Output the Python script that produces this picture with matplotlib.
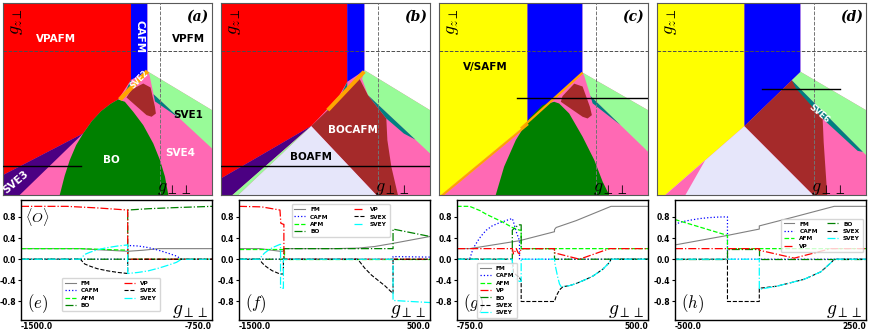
import matplotlib
matplotlib.use("Agg")
import matplotlib.pyplot as plt

plt.rcParams["mathtext.fontset"] = "cm"

# Fasediagrammer (a)-(d): hjørner i (g_perp_perp, g_z_perp)
G_RANGE = (-1500, 500)

a_red = [(-1500, 500), (-275, 500), (-275, -300), (-398, -505), (-470, -550), (-560, -625),
         (-650, -730), (-733, -859), (-1500, -1292)]
a_blue = [(-275, 500), (-117, 500), (-117, -212), (-275, -300)]
a_white = [(-117, 500), (500, 500), (500, -616), (-117, -212)]
a_lgreen = [(-117, -212), (500, -616), (500, -1015), (-60, -450), (-100, -240)]
a_teal = [(-60, -450), (190, -702), (-45, -525)]
a_teal2 = [(-275, -300), (-275, -370), (-335, -440)]
a_green = [(-398, -505), (-470, -550), (-560, -625), (-650, -730), (-733, -859), (-800, -980),
           (-861, -1136), (-910, -1300), (-957, -1500), (82, -1500), (50, -1309), (2, -1136),
           (-62, -963), (-158, -772), (-254, -633), (-334, -529)]
a_purple = [(-733, -859), (-1500, -1292), (-1500, -1500), (-1340, -1500)]
a_brown = [(-270, -401), (-158, -339), (-88, -380), (-46, -581), (-37, -651), (-78, -685),
           (-126, -668), (-318, -484)]
a_orange = [(-398, -490), (-133, -195), (-101, -225), (-366, -520)]

b_red = [(-1500, 500), (-292, 500), (-292, -321), (-366, -460), (-478, -600), (-637, -782),
         (-1500, -1327)]
b_blue = [(-292, 500), (-126, 500), (-126, -200), (-292, -321)]
b_white = [(-126, 500), (500, 500), (500, -616), (-126, -200)]
b_lgreen = [(-126, -200), (500, -616), (500, -1067), (-94, -460), (-150, -290)]
b_brown = [(-174, -290), (-94, -460), (82, -703), (92, -928), (130, -1205), (193, -1500),
           (-14, -1500), (-637, -782), (-478, -616)]
b_teal = [(-94, -460), (360, -923), (250, -860), (82, -703)]
b_teal2 = [(-292, -321), (-292, -380), (-340, -430)]
b_lavender = [(-637, -782), (-1335, -1500), (-14, -1500)]
b_purple = [(-637, -782), (-1500, -1327), (-1500, -1500), (-1390, -1500)]
b_lgreen2 = [(-637, -782), (-1390, -1500), (-1335, -1500)]
b_orange = [(-493, -603), (-145, -202), (-115, -228), (-463, -629)]

c_yellow = [(-1500, 500), (-653, 500), (-653, -755), (-1480, -1500), (-1500, -1500)]
c_blue = [(-653, 500), (-126, 500), (-126, -225), (-653, -755)]
c_white = [(-126, 500), (500, 500), (500, -616), (-126, -225)]
c_lgreen = [(-126, -225), (500, -616), (500, -1049), (-50, -470), (-110, -260)]
c_teal = [(-50, -470), (235, -770), (-30, -545)]
c_green = [(-398, -529), (-510, -564), (-637, -703), (-765, -928), (-877, -1205), (-957, -1500),
           (129, -1500), (66, -1361), (-14, -1136), (-126, -893), (-254, -651), (-350, -547)]
c_brown = [(-318, -470), (-206, -340), (-126, -370), (-56, -581), (-37, -668), (-78, -703),
           (-126, -685), (-334, -529)]
c_orange = [(-725, -799), (-134, -217), (-118, -233), (-709, -815)]
c_orange2 = [(-653, -755), (-1480, -1500), (-1450, -1500), (-640, -770)]

d_yellow = [(-1500, 500), (-663, 500), (-663, -782), (-1420, -1500), (-1500, -1500)]
d_blue = [(-663, 500), (-126, 500), (-126, -217), (-663, -782)]
d_white = [(-126, 500), (500, 500), (500, -616), (-126, -217)]
d_lgreen = [(-126, -217), (500, -616), (500, -1084), (-210, -305)]
d_lavender = [(-663, -782), (-1420, -1500), (-5, -1500)]
d_brown = [(-663, -782), (-210, -305), (85, -700), (95, -950), (129, -1500), (-5, -1500)]
d_teal = [(-210, -305), (470, -1051), (420, -1040), (100, -720), (-170, -390)]
d_pink = [(-1040, -1140), (-1420, -1500), (-1228, -1500)]

# snitt som brukes i (e)-(h)
a_cut_x, a_cut_y = [-1500, -750], -1200
b_cut_x, b_cut_y = [-1500, 500], -1200
c_cut_x, c_cut_y = [-750, 500], -490
d_cut_x, d_cut_y = [-500, 250], -400

# Ordensparametre (e)-(h)
e_fm_x = [-1500, -1267, -1200, -1140, -1081, -1020, -960, -750]
e_fm_y = [0.2, 0.2, 0.18, 0.165, 0.15, 0.17, 0.2, 0.2]
e_cafm_x = [-1500, -1081, -1081, -1040, -1000, -960, -920, -890, -869, -750]
e_cafm_y = [0, 0, 0.26, 0.25, 0.22, 0.17, 0.11, 0.06, 0, 0]
e_afm_x = [-1500, -1267, -1081, -1081, -750]
e_afm_y = [0.2, 0.2, 0.17, 0.0, 0.0]
e_bo_x = [-1500, -1081, -1081, -1000, -900, -750]
e_bo_y = [0, 0, 0.93, 0.955, 0.975, 1.0]
e_vp_x = [-1500, -1320, -1200, -1081, -1081, -750]
e_vp_y = [1.0, 1.0, 0.97, 0.93, 0.0, 0.0]
e_svex_x = [-1500, -1267, -1250, -1230, -1200, -1160, -1120, -1081, -1081, -750]
e_svex_y = [0, 0, -0.09, -0.13, -0.18, -0.22, -0.25, -0.27, 0, 0]
e_svey_x = [-1500, -1267, -1250, -1230, -1200, -1160, -1120, -1081, -1081, -1040, -1000, -960,
            -920, -890, -869, -750]
e_svey_y = [0, 0, 0.09, 0.13, 0.18, 0.22, 0.25, 0.27, -0.27, -0.25, -0.22, -0.17, -0.11, -0.06,
            0, 0]

f_fm_x = [-1500, -1280, -1071, -1030, -1030, -500, -250, -80, 113, 500]
f_fm_y = [0.2, 0.2, 0.15, 0.15, 0.2, 0.2, 0.21, 0.24, 0.3, 0.43]
f_cafm_x = [-1500, 113, 113, 500]
f_cafm_y = [0, 0, 0.05, 0.04]
f_afm_x = [-1500, -1030, -1030, 500]
f_afm_y = [0.2, 0.2, 0.0, 0.0]
f_bo_x = [-1500, -1030, -1030, 113, 113, 500]
f_bo_y = [0, 0, 0.2, 0.2, 0.57, 0.43]
f_vp_x = [-1500, -1263, -1071, -1062, -1035, -1030, -1030, 500]
f_vp_y = [1.0, 0.99, 0.93, 0.68, 0.66, 0.66, 0.0, 0.0]
f_svex_x = [-1500, -1280, -1263, -1230, -1193, -1150, -1110, -1071, -1035, -1035, -260, -235,
            -183, -113, -44, 26, 113, 113, 500]
f_svex_y = [0, 0, -0.06, -0.12, -0.17, -0.22, -0.25, -0.28, -0.28, 0, 0, -0.05, -0.17, -0.3,
            -0.4, -0.5, -0.65, 0, 0]
f_svey_x = [-1500, -1280, -1263, -1230, -1193, -1150, -1110, -1071, -1065, -1065, -1035, -1035,
            113, 113, 300, 500]
f_svey_y = [0, 0, 0.06, 0.12, 0.17, 0.22, 0.25, 0.28, 0.28, -0.55, -0.55, 0, 0, -0.78, -0.8,
            -0.82]

g_fm_x = [-750, -667, -341, -112, -112, -101, 30, 258, 500]
g_fm_y = [0.2, 0.2, 0.35, 0.52, 0.56, 0.6, 0.73, 1.0, 1.0]
g_cafm_x = [-750, -667, -656, -645, -624, -602, -580, -558, -520, -480, -449, -420, -388, -380,
            -360, -341, -341, 500]
g_cafm_y = [0, 0, 0.1, 0.2, 0.3, 0.4, 0.48, 0.55, 0.63, 0.68, 0.71, 0.74, 0.77, 0.7, 0.5, 0.35,
            0, 0]
g_afm_x = [-750, -667, -600, -558, -500, -449, -388, -341, -330, -330, 500]
g_afm_y = [1.0, 1.0, 0.92, 0.85, 0.77, 0.7, 0.6, 0.55, 0.55, 0.2, 0.2]
g_vp_x = [-750, -388, -380, -370, -362, -350, -341, -330, -112, -112, 52, 248, 500]
g_vp_y = [0.2, 0.2, 0.1, 0.15, 0.2, 0.12, 0.1, 0.2, 0.2, 0.12, 0.0, 0.2, 0.2]
g_bo_x = [-750, -388, -388, -360, -341, -330, -330, -112, -112, 500]
g_bo_y = [0, 0, 0.55, 0.62, 0.65, 0.65, 0.2, 0.2, 0.0, 0.0]
g_svex_x = [-750, -388, -380, -362, -341, -330, -330, -112, -101, -79, -57, -14, 30, 95, 139,
            204, 248, 258, 500]
g_svex_y = [0, 0, -0.25, -0.3, -0.35, -0.4, -0.8, -0.8, -0.7, -0.58, -0.52, -0.5, -0.46, -0.38,
            -0.32, -0.19, -0.06, 0, 0]
g_svey_x = [-750, -388, -388, -362, -341, -330, -330, -112, -107, -101, -90, -79, -68, -57, -14,
            30, 95, 139, 204, 248, 258, 500]
g_svey_y = [0, 0, -0.3, -0.38, -0.42, -0.42, 0, 0, -0.12, -0.2, -0.35, -0.47, -0.52, -0.52, -0.5,
            -0.46, -0.38, -0.32, -0.19, -0.06, 0, 0]

h_fm_x = [-500, -294, -169, -169, -32, 125, 250]
h_fm_y = [0.27, 0.45, 0.57, 0.63, 0.8, 1.0, 1.0]
h_cafm_x = [-500, -480, -450, -420, -400, -370, -340, -310, -294, -294, 250]
h_cafm_y = [0.65, 0.7, 0.73, 0.755, 0.77, 0.785, 0.795, 0.8, 0.8, 0.0, 0.0]
h_afm_x = [-500, -294, -294, 250]
h_afm_y = [0.75, 0.45, 0.2, 0.2]
h_vp_x = [-500, -169, -169, -32, 112, 250]
h_vp_y = [0.2, 0.2, 0.17, 0.02, 0.2, 0.2]
h_bo_x = [-500, -294, -294, -169, -169, 250]
h_bo_y = [0, 0, 0.2, 0.2, 0.0, 0.0]
h_svex_x = [-500, -294, -294, -169, -169, -100, -58, 7, 72, 98, 118, 125, 250]
h_svex_y = [0, 0, -0.8, -0.8, -0.55, -0.51, -0.46, -0.38, -0.24, -0.13, -0.04, 0, 0]
h_svey_x = [-500, -169, -169, -100, -58, 7, 72, 98, 118, 125, 250]
h_svey_y = [0, 0, -0.57, -0.51, -0.46, -0.38, -0.24, -0.13, -0.04, 0, 0]

styles = {
    "FM": dict(color="gray", ls="-", lw=0.8),
    "CAFM": dict(color="blue", ls=":", lw=0.9),
    "AFM": dict(color="lime", ls="--", lw=0.9),
    "BO": dict(color="green", ls="-.", lw=0.9),
    "VP": dict(color="red", ls="-.", lw=0.9),
    "SVEX": dict(color="black", ls="--", lw=0.8),
    "SVEY": dict(color="cyan", ls="-.", lw=0.9),
}

fig = plt.figure(figsize=(8.72, 3.33), dpi=100)

top_lefts = [3, 221, 439, 657]
bot_lefts = [21, 239, 457, 675]


def phase_axes(i):
    ax = fig.add_axes([top_lefts[i] / 872, 1 - 195 / 333, 209 / 872, 192 / 333])
    ax.set_facecolor("hotpink")
    ax.set_xlim(G_RANGE)
    ax.set_ylim(G_RANGE)
    ax.set_xticks([])
    ax.set_yticks([])
    for s in ax.spines.values():
        s.set_color("0.35")
    return ax


def fill_regions(ax, regions):
    for verts, col in regions:
        xs = [v[0] for v in verts]
        ys = [v[1] for v in verts]
        ax.fill(xs, ys, color=col, lw=0, zorder=1)


def finish_phase(ax, tag, cut_x, cut_y):
    ax.axvline(0, color="0.45", ls="--", lw=0.7, zorder=3)
    ax.axhline(0, color="0.3", ls="--", lw=0.7, zorder=3)
    ax.plot(cut_x, [cut_y, cut_y], color="black", lw=1.0, zorder=4)
    ax.text(0.02, 0.975, r"$g_{z\perp}$", transform=ax.transAxes, rotation=90,
            fontsize=13, ha="left", va="top", zorder=5)
    ax.text(0.9, -0.01, r"$g_{\perp\perp}$", transform=ax.transAxes,
            fontsize=13, ha="right", va="bottom", zorder=5)
    ax.text(0.93, 0.93, tag, transform=ax.transAxes, fontsize=10, ha="center", va="center",
            family="DejaVu Serif", style="italic", weight="bold", zorder=5)


def label(ax, x, y, s, col="white", rot=0, size=7.5):
    ax.text(x, y, s, color=col, fontsize=size, weight="bold", rotation=rot,
            ha="center", va="center", zorder=5)


# (a)
ax = phase_axes(0)
fill_regions(ax, [(a_red, "red"), (a_blue, "blue"), (a_white, "white"), (a_lgreen, "palegreen"),
                  (a_teal, "teal"), (a_teal2, "teal"), (a_green, "green"), (a_purple, "indigo"),
                  (a_brown, "brown"), (a_orange, "orange")])
finish_phase(ax, "(a)", a_cut_x, a_cut_y)
label(ax, -989, 129, "VPAFM")
label(ax, -196, 146, "CAFM", rot=-90)
label(ax, 273, 129, "VPFM", col="black")
label(ax, 273, -668, "SVE1", col="black")
label(ax, 193, -1067, "SVE4")
label(ax, -462, -1136, "BO")
label(ax, -1380, -1365, "SVE3", rot=40)
label(ax, -195, -300, "SVE2", rot=45, size=5.5)

# (b)
ax = phase_axes(1)
fill_regions(ax, [(b_red, "red"), (b_blue, "blue"), (b_white, "white"), (b_lgreen, "palegreen"),
                  (b_brown, "brown"), (b_teal, "teal"), (b_teal2, "teal"),
                  (b_lavender, "lavender"), (b_purple, "indigo"), (b_lgreen2, "palegreen"),
                  (b_orange, "orange")])
finish_phase(ax, "(b)", b_cut_x, b_cut_y)
label(ax, -238, -824, "BOCAFM")
label(ax, -637, -1101, "BOAFM", col="black")

# (c)
ax = phase_axes(2)
fill_regions(ax, [(c_yellow, "yellow"), (c_blue, "blue"), (c_white, "white"),
                  (c_lgreen, "palegreen"), (c_teal, "teal"), (c_green, "green"),
                  (c_brown, "brown"), (c_orange, "orange"), (c_orange2, "orange")])
finish_phase(ax, "(c)", c_cut_x, c_cut_y)
label(ax, -1059, -165, "V/SAFM", col="black")

# (d)
ax = phase_axes(3)
fill_regions(ax, [(d_yellow, "yellow"), (d_blue, "blue"), (d_white, "white"),
                  (d_lgreen, "palegreen"), (d_lavender, "lavender"), (d_brown, "brown"),
                  (d_teal, "teal"), (d_pink, "hotpink")])
finish_phase(ax, "(d)", d_cut_x, d_cut_y)
label(ax, 50, -651, "SVE6", rot=-40, size=6)

# (e)-(h)
order_a = ["FM", "CAFM", "AFM", "BO", "VP", "SVEX", "SVEY"]
order_b = ["FM", "CAFM", "AFM", "VP", "BO", "SVEX", "SVEY"]
panels = [
    ("(e)", -1500, -750, {"FM": (e_fm_x, e_fm_y), "CAFM": (e_cafm_x, e_cafm_y),
                          "AFM": (e_afm_x, e_afm_y), "BO": (e_bo_x, e_bo_y),
                          "VP": (e_vp_x, e_vp_y), "SVEX": (e_svex_x, e_svex_y),
                          "SVEY": (e_svey_x, e_svey_y)},
     order_a, 2, "lower left", (0.2, 0.05), 4.3),
    ("(f)", -1500, 500, {"FM": (f_fm_x, f_fm_y), "CAFM": (f_cafm_x, f_cafm_y),
                         "AFM": (f_afm_x, f_afm_y), "BO": (f_bo_x, f_bo_y),
                         "VP": (f_vp_x, f_vp_y), "SVEX": (f_svex_x, f_svex_y),
                         "SVEY": (f_svey_x, f_svey_y)},
     order_a, 2, "upper left", (0.26, 0.99), 4.3),
    ("(g)", -750, 500, {"FM": (g_fm_x, g_fm_y), "CAFM": (g_cafm_x, g_cafm_y),
                        "AFM": (g_afm_x, g_afm_y), "VP": (g_vp_x, g_vp_y),
                        "BO": (g_bo_x, g_bo_y), "SVEX": (g_svex_x, g_svex_y),
                        "SVEY": (g_svey_x, g_svey_y)},
     order_b, 1, "lower left", (0.09, -0.01), 1.0),
    ("(h)", -500, 250, {"FM": (h_fm_x, h_fm_y), "CAFM": (h_cafm_x, h_cafm_y),
                        "AFM": (h_afm_x, h_afm_y), "VP": (h_vp_x, h_vp_y),
                        "BO": (h_bo_x, h_bo_y), "SVEX": (h_svex_x, h_svex_y),
                        "SVEY": (h_svey_x, h_svey_y)},
     order_b, 2, "upper right", (1.0, 0.87), 1.6),
]

for i, (tag, xmin, xmax, series, order, ncol, loc, anchor, colsp) in enumerate(panels):
    ax = fig.add_axes([bot_lefts[i] / 872, 1 - 320 / 333, 191 / 872, 120 / 333])
    handles = {}
    for name in ["FM", "CAFM", "AFM", "BO", "VP", "SVEX", "SVEY"]:
        xs, ys = series[name]
        handles[name], = ax.plot(xs, ys, label=name, **styles[name])
    ax.set_xlim(xmin, xmax)
    ax.set_ylim(-1.15, 1.12)
    ax.set_yticks([-0.8, -0.4, 0.0, 0.4, 0.8])
    ax.set_yticklabels(["-0.8", "-0.4", "0.0", "0.4", "0.8"], fontsize=5.5, weight="bold")
    ax.set_xticks([xmin, xmax])
    xt = ax.set_xticklabels([f"{xmin:.1f}", f"{xmax:.1f}"], fontsize=5.5, weight="bold")
    xt[0].set_ha("left")
    xt[1].set_ha("right")
    ax.tick_params(axis="y", length=2, pad=1.5)
    ax.tick_params(axis="x", length=0, pad=1.5)
    for s in ax.spines.values():
        s.set_linewidth(1.0)
    ax.legend([handles[n] for n in order], order, ncol=ncol, loc=loc,
              bbox_to_anchor=anchor, prop={"size": 4.2, "weight": "bold"},
              handlelength=1.8, labelspacing=0.4, columnspacing=colsp,
              borderpad=0.5, handletextpad=0.9)
    ax.text(0.03, 0.04, "$" + tag + "$", transform=ax.transAxes, fontsize=12,
            ha="left", va="bottom")
    ax.text(0.98, 0.0, r"$g_{\perp\perp}$", transform=ax.transAxes, fontsize=14,
            ha="right", va="bottom")
    if i == 0:
        ax.text(0.02, 0.86, r"$\langle O\rangle$", transform=ax.transAxes, fontsize=10,
                ha="left", va="center")

fig.savefig("out.png", dpi=100)
